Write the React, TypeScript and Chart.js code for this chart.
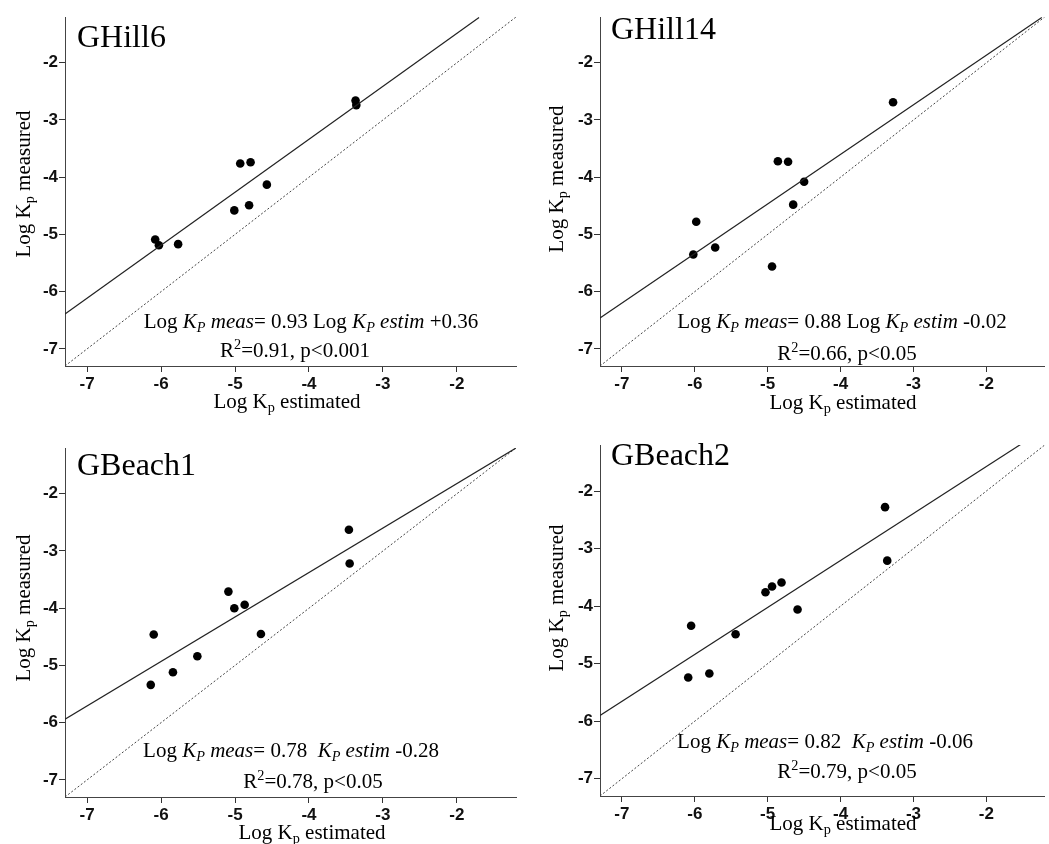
import React, { useEffect, useRef } from "react";
import { Chart, registerables } from "chart.js";

Chart.register(...registerables);

// ---- data ----
const xTickValues = [-7, -6, -5, -4, -3, -2];
const yTickValues = [-7, -6, -5, -4, -3, -2];
const axisMin = -7.3;
const axisMax = -1.2;

const panelNames = ["GHill6", "GHill14", "GBeach1", "GBeach2"];

const ghill6Est = [-3.37, -3.36, -4.93, -4.79, -4.57, -4.81, -5.01, -6.08, -6.03, -5.77];
const ghill6Meas = [-2.66, -2.74, -3.76, -3.74, -4.13, -4.49, -4.58, -5.09, -5.19, -5.17];

const ghill14Est = [-3.28, -4.86, -4.72, -4.5, -4.65, -5.98, -6.02, -5.72, -4.94];
const ghill14Meas = [-2.69, -3.72, -3.73, -4.08, -4.48, -4.78, -5.35, -5.23, -5.56];

const gbeach1Est = [-3.46, -3.45, -5.09, -5.01, -4.87, -4.65, -6.1, -5.51, -5.84, -6.14];
const gbeach1Meas = [-2.63, -3.22, -3.71, -4.0, -3.94, -4.45, -4.46, -4.84, -5.12, -5.34];

const gbeach2Est = [-3.39, -3.36, -5.03, -4.94, -4.81, -4.59, -6.05, -5.44, -5.8, -6.09];
const gbeach2Meas = [-2.28, -3.21, -3.76, -3.66, -3.59, -4.06, -4.34, -4.49, -5.17, -5.24];

// fitted lines: [x0, y0, x1, y1]
const ghill6Fit = [-7.3, -6.39, -1.7, -1.21];
const ghill14Fit = [-7.3, -6.46, -1.24, -1.21];
const gbeach1Fit = [-7.3, -5.94, -1.2, -1.2];
const gbeach2Fit = [-7.3, -5.9, -1.53, -1.19];
const identityLine = [-7.3, -7.3, -1.2, -1.2];

const slopes = ["0.93", "0.88", "0.78", "0.82"];
const intercepts = ["+0.36", "-0.02", "-0.28", "-0.06"];
const r2Values = ["0.91", "0.66", "0.78", "0.79"];
const pValues = ["p<0.001", "p<0.05", "p<0.05", "p<0.05"];

// ---- text helpers ----
type Seg = { t: string; it?: boolean; sub?: boolean; sup?: boolean };
const SERIF = "'Liberation Serif', 'Times New Roman', serif";

function segFont(s: Seg, size: number) {
  const sz = s.sub || s.sup ? size * 0.68 : size;
  return `${s.it ? "italic " : ""}${sz}px ${SERIF}`;
}

function drawRich(ctx: CanvasRenderingContext2D, segs: Seg[], x: number, y: number, size: number, align: "center" | "left") {
  ctx.save();
  ctx.textBaseline = "alphabetic";
  ctx.textAlign = "left";
  let total = 0;
  const widths = segs.map((s) => {
    ctx.font = segFont(s, size);
    const w = ctx.measureText(s.t).width;
    total += w;
    return w;
  });
  let cx = align === "center" ? x - total / 2 : x;
  segs.forEach((s, i) => {
    ctx.font = segFont(s, size);
    let dy = 0;
    if (s.sub) dy = size * 0.2;
    if (s.sup) dy = -size * 0.38;
    ctx.fillText(s.t, cx, y + dy);
    cx += widths[i];
  });
  ctx.restore();
}

type Layout = {
  left: number; top: number; width: number; height: number;
  padTop: number; padRight: number; yW: number; xH: number;
  title: [number, number];
  yTitle: [number, number];
  xTitle: [number, number];
  eq: [number, number];
  r2: [number, number];
};

const layouts: Layout[] = [
  { left: 0, top: 0, width: 525, height: 420, padTop: 17, padRight: 9, yW: 65, xH: 54,
    title: [77, 47], yTitle: [30, 184], xTitle: [287, 408], eq: [311, 328], r2: [295, 357] },
  { left: 525, top: 0, width: 524, height: 420, padTop: 17, padRight: 0, yW: 75, xH: 54,
    title: [611, 39], yTitle: [563, 179], xTitle: [843, 409], eq: [842, 328], r2: [847, 360] },
  { left: 0, top: 420, width: 525, height: 424, padTop: 28, padRight: 9, yW: 65, xH: 47,
    title: [77, 475], yTitle: [30, 608], xTitle: [312, 839], eq: [291, 757], r2: [313, 788] },
  { left: 525, top: 420, width: 524, height: 424, padTop: 25, padRight: 0, yW: 75, xH: 48,
    title: [611, 465], yTitle: [563, 598], xTitle: [843, 830], eq: [825, 748], r2: [847, 778] },
];

const estSets = [ghill6Est, ghill14Est, gbeach1Est, gbeach2Est];
const measSets = [ghill6Meas, ghill14Meas, gbeach1Meas, gbeach2Meas];
const fitSets = [ghill6Fit, ghill14Fit, gbeach1Fit, gbeach2Fit];

function eqSegs(i: number): Seg[] {
  const head: Seg[] = [
    { t: "Log " }, { t: "K", it: true }, { t: "P", it: true, sub: true }, { t: " meas", it: true },
    { t: "= " + slopes[i] + " " },
  ];
  const mid: Seg[] = i < 2 ? [{ t: "Log " }] : [{ t: " " }];
  const tail: Seg[] = [
    { t: "K", it: true }, { t: "P", it: true, sub: true }, { t: " estim", it: true }, { t: " " + intercepts[i] },
  ];
  return [...head, ...mid, ...tail];
}

function Panel({ idx }: { idx: number }) {
  const ref = useRef<HTMLCanvasElement | null>(null);
  const L = layouts[idx];
  useEffect(() => {
    if (!ref.current) return;
    const pts = estSets[idx].map((x, k) => ({ x, y: measSets[idx][k] }));
    const f = fitSets[idx];
    const fit = [{ x: f[0], y: f[1] }, { x: f[2], y: f[3] }];
    const ident = [{ x: identityLine[0], y: identityLine[1] }, { x: identityLine[2], y: identityLine[3] }];
    const tickFont = { family: "'Liberation Sans', Arial, sans-serif", size: 17, weight: "bold" as const };

    const textPlugin = {
      id: "texts" + idx,
      afterDraw(chart: any) {
        const ctx: CanvasRenderingContext2D = chart.ctx;
        ctx.save();
        ctx.fillStyle = "#000";
        drawRich(ctx, [{ t: panelNames[idx] }], L.title[0] - L.left, L.title[1] - L.top, 32, "left");
        drawRich(ctx, [{ t: "Log K" }, { t: "p", sub: true }, { t: " estimated" }], L.xTitle[0] - L.left, L.xTitle[1] - L.top, 21, "center");
        ctx.save();
        ctx.translate(L.yTitle[0] - L.left, L.yTitle[1] - L.top);
        ctx.rotate(-Math.PI / 2);
        drawRich(ctx, [{ t: "Log K" }, { t: "p", sub: true }, { t: " measured" }], 0, 0, 21, "center");
        ctx.restore();
        drawRich(ctx, eqSegs(idx), L.eq[0] - L.left, L.eq[1] - L.top, 21, "center");
        drawRich(ctx, [{ t: "R" }, { t: "2", sup: true }, { t: "=" + r2Values[idx] + ", " + pValues[idx] }], L.r2[0] - L.left, L.r2[1] - L.top, 21, "center");
        ctx.restore();
      },
    };

    const chart = new Chart(ref.current, {
      type: "scatter",
      data: {
        datasets: [
          { type: "line", data: ident, borderColor: "#444", borderWidth: 1, borderDash: [2, 2], pointRadius: 0, fill: false } as any,
          { type: "line", data: fit, borderColor: "#222", borderWidth: 1.2, pointRadius: 0, fill: false } as any,
          { type: "scatter", data: pts, pointRadius: 4.3, pointHoverRadius: 4.3, backgroundColor: "#000", borderColor: "#000", borderWidth: 0 } as any,
        ],
      },
      options: {
        responsive: false,
        animation: false,
        events: [],
        layout: { padding: { top: L.padTop, right: L.padRight, left: 0, bottom: 0 } },
        plugins: { legend: { display: false }, tooltip: { enabled: false }, title: { display: false } },
        scales: {
          x: {
            type: "linear", min: axisMin, max: axisMax,
            afterBuildTicks: (s: any) => { s.ticks = xTickValues.map((v) => ({ value: v })); },
            afterFit: (s: any) => { s.height = L.xH; },
            grid: { display: true, drawOnChartArea: false, drawTicks: true, tickLength: 6, color: "#333", lineWidth: 1 },
            border: { display: true, color: "#444", width: 1 },
            ticks: { font: tickFont, color: "#111", padding: 2, maxRotation: 0, autoSkip: false },
          },
          y: {
            type: "linear", min: axisMin, max: axisMax,
            afterBuildTicks: (s: any) => { s.ticks = yTickValues.map((v) => ({ value: v })); },
            afterFit: (s: any) => { s.width = L.yW; },
            grid: { display: true, drawOnChartArea: false, drawTicks: true, tickLength: 6, color: "#333", lineWidth: 1 },
            border: { display: true, color: "#444", width: 1 },
            ticks: { font: tickFont, color: "#111", padding: 1, autoSkip: false },
          },
        },
      } as any,
      plugins: [textPlugin],
    });
    return () => chart.destroy();
  }, [idx]);
  return (
    <canvas
      ref={ref}
      width={L.width}
      height={L.height}
      style={{ position: "absolute", left: L.left, top: L.top, width: L.width, height: L.height }}
    />
  );
}

export default function App() {
  return (
    <div style={{ position: "absolute", left: 0, top: 0, width: 1049, height: 844, background: "#fff", overflow: "hidden" }}>
      {[0, 1, 2, 3].map((i) => (
        <Panel key={i} idx={i} />
      ))}
    </div>
  );
}
